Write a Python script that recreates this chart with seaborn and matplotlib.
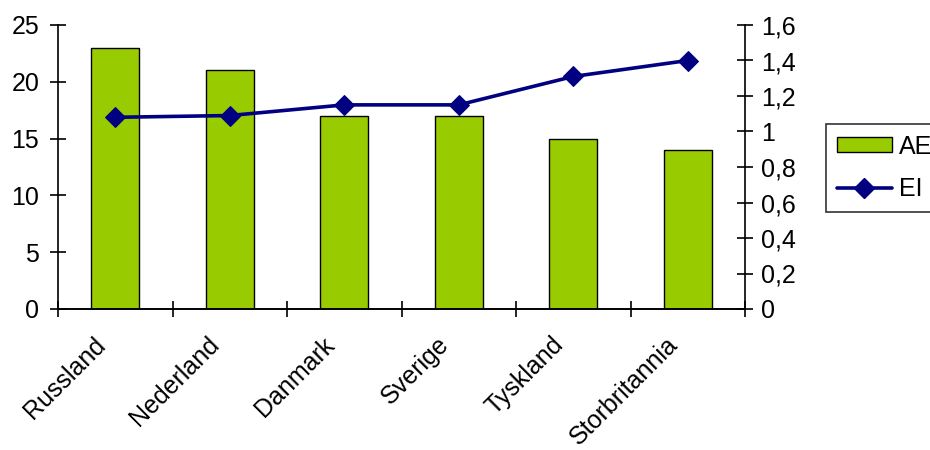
import matplotlib
matplotlib.use("Agg")
import matplotlib.pyplot as plt
import seaborn as sns
import pandas as pd
from matplotlib.ticker import FuncFormatter, MultipleLocator
from matplotlib.patches import Patch
from matplotlib.lines import Line2D
from matplotlib.transforms import ScaledTranslation

categories = ["Russland", "Nederland", "Danmark", "Sverige", "Tyskland", "Storbritannia"]
ae_values = [23, 21, 17, 17, 15, 14]
ei_values = [1.08, 1.09, 1.15, 1.15, 1.31, 1.40]

sns.set_theme(style="white")
plt.rcParams["font.family"] = ["Liberation Sans", "DejaVu Sans"]
plt.rcParams["text.color"] = "black"
plt.rcParams["xtick.color"] = "black"
plt.rcParams["ytick.color"] = "black"

FS = 18
BAR = "#99CC00"
LINE = "#000080"

df = pd.DataFrame({"land": categories, "AE": ae_values, "EI": ei_values})

fig = plt.figure(figsize=(9.3, 4.5), dpi=100)
ax = fig.add_axes([58/930, 1-309/450, (745-58)/930, (309-25)/450])

sns.barplot(data=df, x="land", y="AE", ax=ax, color=BAR, width=0.42,
            edgecolor="black", linewidth=1.0, saturation=1)
ax.set_ylim(0, 25)
ax.yaxis.set_major_locator(MultipleLocator(5))
ax.set_xlabel("")
ax.set_ylabel("")

ax2 = ax.twinx()
sns.lineplot(data=df, x="land", y="EI", ax=ax2, color=LINE, linewidth=2.6,
             marker="D", markersize=10, markeredgecolor=LINE, sort=False)
ax2.set_ylim(0, 1.6)
ax2.yaxis.set_major_locator(MultipleLocator(0.2))
ax2.yaxis.set_major_formatter(FuncFormatter(lambda v, p: ("%g" % round(v, 1)).replace(".", ",")))
ax2.set_ylabel("")
ax2.set_xlabel("")
ax.set_xlim(-0.5, len(categories) - 0.5)

for a in (ax, ax2):
    a.spines["top"].set_visible(False)
    for s in a.spines.values():
        s.set_color("black")
        s.set_linewidth(1.2)
ax.spines["right"].set_visible(False)
ax2.spines["left"].set_visible(False)

ax.tick_params(axis="y", direction="inout", length=11, width=1.2, labelsize=FS, pad=8,
               left=True, colors="black")
ax2.tick_params(axis="y", direction="inout", length=11, width=1.2, labelsize=FS, pad=6,
                right=True, colors="black")

# x ticks at category boundaries, labels at centers
ax.set_xticks([i - 0.5 for i in range(len(categories) + 1)], minor=False)
ax.set_xticklabels([])
ax.tick_params(axis="x", which="major", direction="inout", length=11, width=1.2, bottom=True)
ax.set_xticks(range(len(categories)), minor=True)
ax.set_xticklabels(categories, minor=True, rotation=45, ha="right", va="center",
                   rotation_mode="anchor", fontsize=FS, color="black")
ax.tick_params(axis="x", which="minor", length=0, pad=23)
shift = ScaledTranslation(-14/100, 0, fig.dpi_scale_trans)
for lbl in ax.get_xticklabels(minor=True):
    lbl.set_transform(lbl.get_transform() + shift)

handles = [Patch(facecolor=BAR, edgecolor="black", linewidth=1.0),
           Line2D([0], [0], color=LINE, linewidth=2.6, marker="D", markersize=10)]
leg = fig.legend(handles, ["AE", "EI"], loc="upper left",
                 bbox_to_anchor=(826/930, 1-124/450), bbox_transform=fig.transFigure,
                 fontsize=FS, frameon=True, fancybox=False, edgecolor="black",
                 handlelength=2.2, handleheight=0.56, handletextpad=0.3,
                 labelspacing=0.75, borderpad=0.42, borderaxespad=0)
leg.get_frame().set_linewidth(1.2)
for t in leg.get_texts():
    t.set_color("black")
if ax2.get_legend() is not None:
    ax2.get_legend().remove()

fig.savefig("out.png", dpi=100)
